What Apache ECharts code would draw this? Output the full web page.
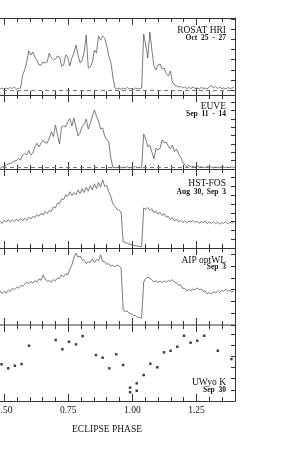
<!DOCTYPE html>
<html><head><meta charset="utf-8">
<script src="https://cdn.jsdelivr.net/npm/echarts@6/dist/echarts.min.js"></script>
<style>html,body{margin:0;padding:0;background:#fff}#c{width:299px;height:471px}</style>
</head><body><div id="c"></div>
<script>
// ---- data (eclipse phase grid shared by the four light curves) ----
const phase = [
0.484,0.492,0.500,0.508,0.516,0.524,0.532,0.540,0.548,0.556,
0.564,0.572,0.580,0.588,0.596,0.604,0.612,0.620,0.628,0.636,
0.644,0.652,0.660,0.668,0.676,0.684,0.692,0.700,0.708,0.716,
0.724,0.732,0.740,0.748,0.756,0.764,0.772,0.780,0.788,0.796,
0.804,0.812,0.820,0.828,0.836,0.844,0.852,0.860,0.868,0.876,
0.884,0.892,0.900,0.908,0.916,0.924,0.932,0.940,0.948,0.956,
0.964,0.972,0.980,0.988,0.996,1.004,1.012,1.020,1.028,1.036,
1.044,1.052,1.060,1.068,1.076,1.084,1.092,1.100,1.108,1.116,
1.124,1.132,1.140,1.148,1.156,1.164,1.172,1.180,1.188,1.196,
1.204,1.212,1.220,1.228,1.236,1.244,1.252,1.260,1.268,1.276,
1.284,1.292,1.300,1.308,1.316,1.324,1.332,1.340,1.348,1.356,
1.364,1.372,1.380,1.388,1.396];

const rosatRate = [
0.6,0.7,0.55,0.7,0.6,0.75,0.65,0.8,0.6,0.65,
0.7,2.0,2.5,3.3,4.4,4.0,4.3,3.8,3.5,3.0,
3.0,3.3,3.2,3.3,4.2,3.7,3.5,3.6,3.9,3.8,
2.9,3.0,4.0,3.8,2.9,3.7,4.2,5.0,4.0,3.2,
3.5,4.3,6.0,2.7,2.8,3.3,4.5,4.2,5.9,5.5,
5.9,5.7,4.9,3.9,3.3,1.8,0.7,0.6,0.7,0.55,
0.7,0.6,0.75,0.6,0.65,0.55,0.7,0.6,0.65,0.7,
6.1,5.0,3.7,6.3,4.5,2.9,2.5,3.0,3.1,2.6,
2.7,2.1,1.9,2.4,1.3,1.0,0.9,0.8,0.85,0.7,
0.8,0.65,0.75,0.65,0.8,0.65,0.7,0.6,0.75,0.65,
0.7,0.6,0.85,0.95,0.7,0.85,0.65,0.8,0.65,0.7,
0.6,0.75,0.65,0.7,0.75];
const rosatBackground = 0.45;

const euveRate = [
0.08,0.24,0.3,0.48,0.6,0.66,0.78,0.96,1.02,1.26,
1.08,1.68,1.86,1.68,2.22,1.68,1.92,2.68,3.09,2.64,
3.12,3.48,3.12,3.12,3.72,4.48,3.88,5.28,4.08,3.0,
5.04,5.16,5.04,5.68,6.06,5.16,6.12,5.04,3.96,4.32,
5.08,5.4,6.0,4.8,5.52,6.36,7.08,6.36,5.76,4.8,
4.92,3.96,3.54,3.24,1.32,0.18,0.2,0.15,0.3,0.12,
0.22,0.18,0.28,0.1,0.24,0.16,0.3,0.14,0.2,0.12,
4.2,3.6,2.64,2.88,2.04,1.2,2.48,2.28,2.52,3.48,
3.12,3.24,2.76,2.4,2.88,2.08,2.4,1.8,1.44,0.84,
0.48,0.3,0.48,0.2,0.36,0.2,0.44,0.2,0.28,0.16,
0.22,0.3,0.18,0.24,0.14,0.26,0.2,0.16,0.28,0.22,
0.18,0.24,0.16,0.26,0.2];
const euveBackground = 0.16;

const hstFlux = [
3.05,2.8,3.15,2.95,3.25,2.95,3.2,2.98,3.3,3.05,
3.35,3.1,3.4,3.15,3.5,3.3,3.6,3.45,3.8,3.6,
3.95,3.75,4.15,3.9,4.25,4.15,4.7,4.55,5.1,5.05,
5.6,5.5,6.05,5.85,6.4,5.95,6.3,6.05,6.6,6.2,
6.75,6.3,6.9,6.45,7.1,6.6,7.3,6.75,7.45,6.9,
7.75,7.0,7.1,6.4,5.85,5.0,4.75,4.4,4.3,4.1,
0.74,0.62,0.53,0.45,0.36,0.32,0.25,0.23,0.17,0.15,
4.55,4.4,4.6,4.3,4.45,4.0,4.2,3.85,4.05,3.7,
3.9,3.5,3.6,3.25,3.45,3.05,3.3,2.95,3.15,2.9,
3.1,2.85,3.05,2.95,3.15,2.9,3.05,2.8,3.0,2.9,
3.05,2.75,2.95,2.8,3.0,2.75,2.95,2.7,2.9,2.8,
3.0,2.75,2.95,2.8,3.0];

const aipFlux = [
2.9,2.65,2.85,2.7,2.95,2.85,3.1,3.0,3.2,3.12,
3.35,3.3,3.45,3.65,3.5,3.7,3.55,3.75,3.65,3.9,
3.8,4.25,3.9,3.7,3.75,3.65,3.85,3.75,4.0,3.95,
4.25,4.1,4.35,4.25,4.7,5.1,5.7,6.1,5.75,5.85,
5.55,5.5,5.2,5.35,5.3,5.6,5.3,5.55,5.45,5.95,
5.4,5.35,5.15,5.2,5.0,5.05,4.95,5.1,5.0,4.85,
1.27,1.15,1.18,1.0,0.95,0.82,0.8,0.64,0.62,0.57,
3.65,3.95,4.05,4.0,3.8,3.65,3.75,3.6,3.72,3.58,
3.75,3.62,3.78,3.7,3.85,3.62,3.6,3.38,3.4,3.1,
3.12,2.9,3.02,2.92,3.05,2.98,3.15,3.0,3.05,2.85,
2.9,2.65,2.75,2.62,2.8,2.7,2.88,2.75,2.92,2.85,
3.02,2.88,2.95,2.78,2.9];

const uwyoPhase = [0.490,0.516,0.542,0.568,0.597,0.701,0.727,0.753,0.780,0.806,
0.858,0.884,0.910,0.937,0.964,0.991,0.991,1.017,1.017,1.044,
1.070,1.097,1.123,1.149,1.175,1.201,1.227,1.253,1.280,1.333,1.386];
const uwyoK = [3.28,2.92,3.15,3.30,4.94,5.45,4.62,5.29,5.06,5.80,
4.11,3.87,2.92,4.17,3.21,1.19,0.78,1.58,0.92,2.32,
3.33,3.01,4.35,4.49,4.85,5.83,5.21,5.38,5.83,4.49,3.75];

const phaseTickLabels = [0.50, 0.75, 1.00, 1.25];
const panelNames = ['ROSAT HRI', 'EUVE', 'HST-FOS', 'AIP optWL', 'UWyo K'];
const panelDates = ['Oct  25  -  27', 'Sep  11  -  14', 'Aug  30,  Sep  3', 'Sep  3', 'Sep  30'];
const xAxisTitle = 'ECLIPSE PHASE';

// ---- layout ----
const tops = [18, 95, 169, 248, 325];
const bottoms = [95, 169, 248, 325, 401];
const yMax = [7.7, 8.88, 8.98, 6.53, 6.79];
const nameY = [30, 106, 183, 260, 382];
const dateY = [38, 114.5, 192, 267, 390];
const LEFT = -60, RIGHT = 64, XMIN = 0.25, XMAX = 1.4;
const AX = '#333';
const SERIF = '"Liberation Serif", "DejaVu Serif", serif';

const grids = [], xAxes = [], yAxes = [], series = [], graphics = [];
function xAx(g, pos, major, showLine, lineColor, lineWidth, labels) {
  return {
    type: 'value', gridIndex: g, position: pos, min: XMIN, max: XMAX,
    interval: major ? 0.25 : 0.05,
    axisLine: { show: showLine, lineStyle: { color: lineColor || AX, width: lineWidth || 1 } },
    axisTick: { show: true, inside: true, length: major ? 7 : 4, lineStyle: { color: AX, width: 1 } },
    axisLabel: labels ? {
      show: true, margin: 4, color: '#111', fontFamily: SERIF, fontSize: 9.5,
      formatter: v => phaseTickLabels.some(t => Math.abs(t - v) < 1e-6) ? v.toFixed(2) : ''
    } : { show: false },
    splitLine: { show: false }, minorTick: { show: false }
  };
}
for (let g = 0; g < 5; g++) {
  grids.push({ left: LEFT, right: RIGHT, top: tops[g], height: bottoms[g] - tops[g],
               containLabel: false, outerBoundsMode: 'none' });
  const grayBottom = g === 3, grayTop = g === 4;
  xAxes.push(xAx(g, 'bottom', false, true, grayBottom ? '#9a9a9a' : AX, grayBottom ? 2 : 1, false));
  xAxes.push(xAx(g, 'bottom', true, false, null, 1, g === 4));
  xAxes.push(xAx(g, 'top', false, true, grayTop ? '#9a9a9a' : AX, grayTop ? 2 : 1, false));
  xAxes.push(xAx(g, 'top', true, false, null, 1, false));
  yAxes.push({
    type: 'value', gridIndex: g, position: 'right', min: 0, max: yMax[g], interval: 1,
    axisLine: { show: true, lineStyle: { color: AX, width: 1 } },
    axisTick: { show: g !== 0, inside: true, length: 4, lineStyle: { color: AX } },
    axisLabel: { show: false }, splitLine: { show: false }
  });
  graphics.push({ type: 'text', x: 226, y: nameY[g], silent: true,
    style: { text: panelNames[g], fill: '#111', font: '9.5px ' + SERIF, textAlign: 'right', textVerticalAlign: 'middle' } });
  graphics.push({ type: 'text', x: 226, y: dateY[g], silent: true,
    style: { text: panelDates[g], fill: '#111', font: 'bold 7.5px ' + SERIF, textAlign: 'right', textVerticalAlign: 'middle' } });
}
// separate tick frame for the ROSAT right-hand ticks (they are aligned to the background level)
grids.push({ left: LEFT, right: RIGHT, top: 19.3, height: 70.7, containLabel: false, outerBoundsMode: 'none' });
xAxes.push({ type: 'value', gridIndex: 5, min: XMIN, max: XMAX, show: false });
yAxes.push({ type: 'value', gridIndex: 5, position: 'right', min: 0, max: 7, interval: 1,
  axisLine: { show: false }, axisTick: { show: true, inside: true, length: 4, lineStyle: { color: AX } },
  axisLabel: { show: false }, splitLine: { show: false } });

const lineStyle = { color: '#5a5a5a', width: 0.8 };
function curve(g, vals, bg) {
  const s = {
    type: 'line', xAxisIndex: g * 4, yAxisIndex: g, showSymbol: false, symbol: 'none',
    data: phase.map((p, i) => [p, vals[i]]), lineStyle: lineStyle, silent: true, clip: true
  };
  if (bg !== undefined) {
    s.markLine = { silent: true, symbol: 'none', label: { show: false },
      lineStyle: { color: '#777', type: [4, 3], width: 1 }, data: [{ yAxis: bg }] };
  }
  return s;
}
series.push(curve(0, rosatRate, rosatBackground));
series.push(curve(1, euveRate, euveBackground));
series.push(curve(2, hstFlux));
series.push(curve(3, aipFlux));
series.push({ type: 'scatter', xAxisIndex: 16, yAxisIndex: 4, symbol: 'rect', symbolSize: 2.5,
  itemStyle: { color: '#111' }, silent: true, data: uwyoPhase.map((p, i) => [p, uwyoK[i]]) });

graphics.push({ type: 'text', x: 107, y: 429.5, silent: true,
  style: { text: xAxisTitle, fill: '#111', font: '9.5px ' + SERIF, textAlign: 'center', textVerticalAlign: 'middle' } });

const chart = echarts.init(document.getElementById('c'), null, { renderer: 'canvas' });
chart.setOption({
  animation: false, backgroundColor: '#fff',
  grid: grids, xAxis: xAxes, yAxis: yAxes, series: series, graphic: graphics
});
</script></body></html>
